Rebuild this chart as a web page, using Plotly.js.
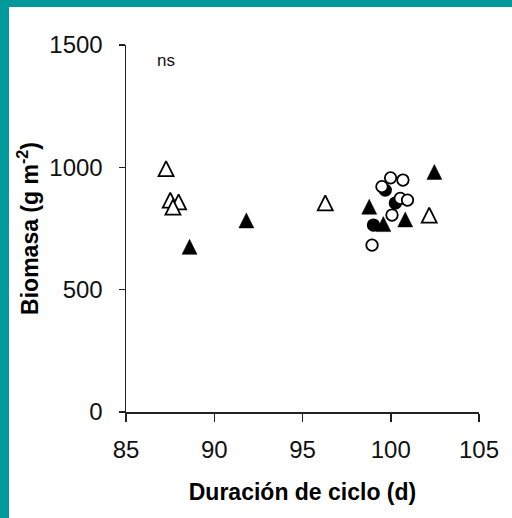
<!DOCTYPE html>
<html>
<head>
<meta charset="utf-8">
<script src="https://cdn.plot.ly/plotly-3.0.1.min.js"></script>
<style>
  html, body { margin: 0; padding: 0; }
  body { width: 512px; height: 518px; background: #009a9a; position: relative; overflow: hidden; }
  #chart { position: absolute; left: 9px; top: 7px; width: 503px; height: 511px; background: #fff; }
</style>
</head>
<body>
<div id="chart"></div>
<script>
// Biomass (g m-2) against crop cycle length (days)
const xTicks = [85, 90, 95, 100, 105];
const yTicks = [0, 500, 1000, 1500];

// Filled circles
const filledCircleX = [99.02, 99.69, 100.26];
const filledCircleY = [764, 907, 854];

// Open circles
const openCircleX = [99.99, 99.50, 100.69, 100.54, 100.95, 100.07, 98.94];
const openCircleY = [957, 921, 948, 873, 866, 805, 682];

// Filled triangles
const filledTriX = [88.60, 91.82, 98.78, 100.82, 102.47, 99.58];
const filledTriY = [675, 783, 839, 787, 981, 768];

// Open triangles
const openTriX = [87.27, 87.51, 87.98, 87.66, 96.29, 102.18];
const openTriY = [995, 866, 859, 837, 855, 805];

const FONT = 'Liberation Sans, Arial, Helvetica, sans-serif';
const W = 503, H = 511;
const M = { l: 117, r: 33, t: 38, b: 106 };
const yRange = [0, 1500];
const plotH = H - M.t - M.b;

// "arrow-up" draws a true-proportioned triangle whose apex sits on the point;
// a hidden twin y axis lifts these markers by half their height so each
// triangle is centred on its value.
const triSize = 15;
const lift = (triSize / 2) * (yRange[1] - yRange[0]) / plotH;

const circle = (x, y, fill) => ({
  x, y, type: 'scatter', mode: 'markers', hoverinfo: 'x+y',
  marker: { symbol: 'circle', size: 11.5, color: fill, line: { color: '#000', width: 1.8 } }
});
const tri = (x, y, fill) => ({
  x, y, yaxis: 'y2', type: 'scatter', mode: 'markers', hoverinfo: 'x+y',
  marker: { symbol: 'arrow-up', size: triSize, color: fill, line: { color: '#000', width: fill === '#000' ? 0.5 : 1.8 } }
});

const data = [
  circle(filledCircleX, filledCircleY, '#000'),
  circle(openCircleX, openCircleY, '#fff'),
  tri(filledTriX, filledTriY, '#000'),
  tri(openTriX, openTriY, '#fff')
];

const axisCommon = {
  showline: true, linecolor: '#222', linewidth: 1.5,
  ticks: 'outside', tickcolor: '#222', tickwidth: 1.5,
  showgrid: false, zeroline: false,
  tickfont: { family: FONT, size: 24, color: '#111' }
};

const layout = {
  width: W, height: H,
  margin: M,
  paper_bgcolor: '#fff', plot_bgcolor: '#fff',
  showlegend: false,
  xaxis: Object.assign({}, axisCommon, {
    range: [85, 105], tickvals: xTicks, ticklen: 8,
    ticklabelstandoff: 8,
    title: { text: '<b>Duración de ciclo (d)</b>', font: { family: FONT, size: 23, color: '#000' }, standoff: 21 }
  }),
  yaxis: Object.assign({}, axisCommon, {
    range: yRange, tickvals: yTicks, ticklen: 6,
    ticklabelstandoff: 11,
    title: { text: '<b>Biomasa (g m<sup>-2</sup>)</b>', font: { family: FONT, size: 23, color: '#000' }, standoff: 4 }
  }),
  yaxis2: {
    overlaying: 'y', visible: false,
    range: [yRange[0] - lift, yRange[1] - lift]
  },
  annotations: [{
    x: 87.28, y: 1438, xref: 'x', yref: 'y', text: 'ns', showarrow: false,
    font: { family: FONT, size: 17, color: '#111' }
  }]
};

Plotly.newPlot('chart', data, layout, { displayModeBar: false, staticPlot: true });
</script>
</body>
</html>
